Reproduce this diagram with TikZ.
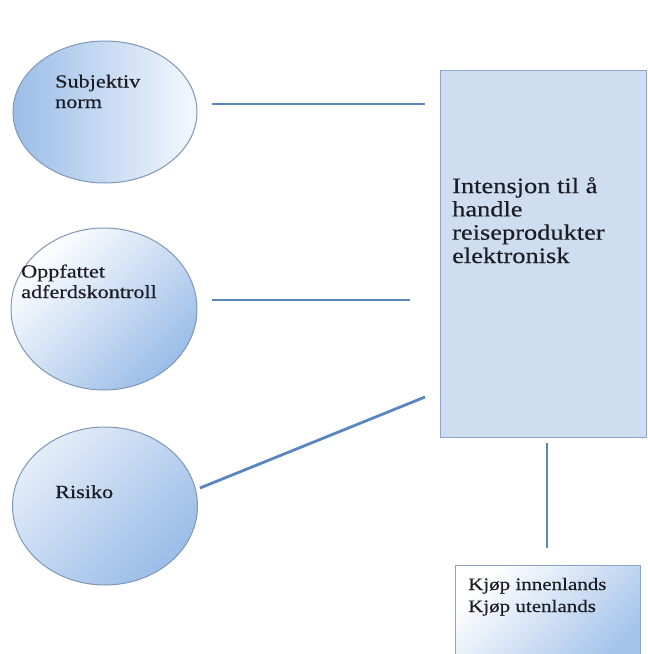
\documentclass[tikz,border=0pt]{standalone}
\usepackage{fontspec}
\setmainfont{Liberation Serif}[FakeStretch=1.2,FakeBold=0.4]
\usetikzlibrary{shapes.geometric}
\definecolor{linkblue}{HTML}{5A86BF}
\definecolor{edgeblue}{HTML}{7F97B6}
\definecolor{shadeblue}{HTML}{9BBDE8}
\definecolor{paleblue}{HTML}{F4F8FD}
\definecolor{boxfill}{HTML}{CEDEF0}
\definecolor{boxedge}{HTML}{8AA5C7}
\definecolor{inkgrey}{HTML}{1C1C24}
\tikzset{
  bubble/.style={ellipse, draw=edgeblue, line width=1pt, inner sep=0pt},
  bubbletext/.style={anchor=base west, inner sep=0pt, align=left,
    font=\fontsize{18.5}{20.5}\selectfont, text=inkgrey},
  buytext/.style={anchor=base west, inner sep=0pt, align=left,
    font=\fontsize{17.5}{22}\selectfont, text=inkgrey},
  boxtext/.style={anchor=base west, inner sep=0pt, align=left,
    font=\fontsize{22}{23.3}\selectfont, text=inkgrey},
  link/.style={draw=linkblue, line width=2.8pt},
}
\begin{document}
\begin{tikzpicture}[x=1pt,y=-1pt]
\useasboundingbox (0,0) rectangle (648,654);

% factor bubbles
\node[bubble, minimum width=184pt, minimum height=142pt,
      left color=shadeblue, right color=paleblue] (norm) at (105,112) {};
\node[bubble, minimum width=186pt, minimum height=162pt,
      shading=axis, top color=white, bottom color=shadeblue, shading angle=45] (ctrl) at (104,309) {};
\node[bubble, minimum width=185pt, minimum height=158pt,
      shading=axis, top color=paleblue!60!shadeblue!60, bottom color=shadeblue, shading angle=45] (risk) at (105,506) {};

% multi-line labels are placed by the baseline of their last line
\node[bubbletext] (normtxt) at (55,108) {Subjektiv\\norm};
\node[bubbletext] (ctrltxt) at (21,298) {Oppfattet\\adferdskontroll};
\node[bubbletext] (risktxt) at (55,498) {Risiko};

% intention box
\node[draw=boxedge, fill=boxfill, line width=1pt, anchor=north west,
      minimum width=206pt, minimum height=367pt] (intent) at (440,70) {};
\node[boxtext] (intenttxt) at (452,263) {Intensjon til å\\handle\\reiseprodukter\\elektronisk};

% purchase box
\node[draw=boxedge, line width=1pt, anchor=north west,
      minimum width=185pt, minimum height=100pt,
      shading=axis, top color=white, middle color=boxfill!70!white, bottom color=shadeblue!90,
      shading angle=45] (buy) at (455,565) {};
\node[buytext] (buytxt) at (468,612) {Kjøp innenlands\\Kjøp utenlands};

% connector end points
\coordinate (n1) at (212,104);
\coordinate (n2) at (425,104);
\coordinate (c1) at (212,300);
\coordinate (c2) at (410,300);
\coordinate (r1) at (200,488);
\coordinate (r2) at (425,397);
\coordinate (v1) at (547,443);
\coordinate (v2) at (547,548);

\draw[link] (n1) -- (n2);
\draw[link] (c1) -- (c2);
\draw[link] (r1) -- (r2);
\draw[link] (v1) -- (v2);
\end{tikzpicture}
\end{document}
